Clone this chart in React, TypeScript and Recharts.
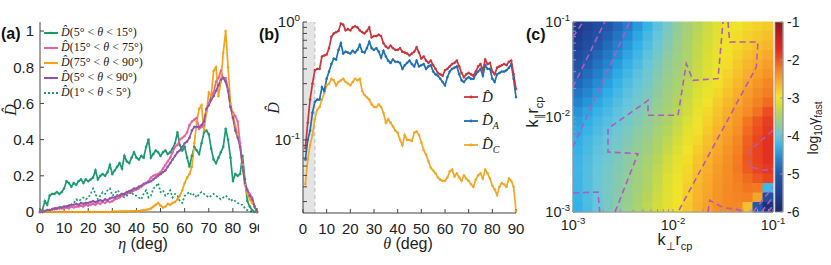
import React from 'react'
import {
  LineChart, Line, XAxis, YAxis, ReferenceArea, ReferenceLine,
  ComposedChart, Scatter,
} from 'recharts'

const SANS = '"Liberation Sans", Arial, Helvetica, sans-serif'
const SERIF = '"Liberation Serif", "DejaVu Serif", serif'
const INK = '#222'
const AXIS = '#444'
const HAT_D = 'D\u0302'

// ---------- panel (a): D-hat vs eta ----------
const ETA = Array.from({ length: 91 }, (_, i) => i)
const ETA_TICKS = [0, 10, 20, 30, 40, 50, 60, 70, 80, 90]
const DA_TICKS = [0, 0.2, 0.4, 0.6, 0.8, 1]

const D_5_15 = [0, 0.01, 0.06, 0.04, 0.09, 0.10, 0.10, 0.11, 0.10, 0.11, 0.13, 0.17, 0.16, 0.14, 0.16, 0.15, 0.17, 0.18, 0.16, 0.18, 0.17, 0.18, 0.19, 0.23, 0.18, 0.20, 0.21, 0.20, 0.22, 0.26, 0.21, 0.23, 0.25, 0.27, 0.24, 0.31, 0.28, 0.27, 0.30, 0.33, 0.30, 0.29, 0.31, 0.30, 0.36, 0.40, 0.30, 0.32, 0.34, 0.33, 0.31, 0.33, 0.34, 0.32, 0.33, 0.35, 0.38, 0.44, 0.37, 0.34, 0.36, 0.30, 0.25, 0.31, 0.36, 0.34, 0.32, 0.38, 0.44, 0.45, 0.43, 0.35, 0.29, 0.27, 0.30, 0.33, 0.36, 0.46, 0.40, 0.30, 0.17, 0.21, 0.20, 0.21, 0.31, 0.18, 0.06, 0.03, 0.01, 0, 0]
const D_15_75 = [0, 0, 0.005, 0.01, 0.01, 0.015, 0.015, 0.02, 0.02, 0.02, 0.02, 0.025, 0.02, 0.03, 0.025, 0.03, 0.03, 0.035, 0.03, 0.04, 0.035, 0.04, 0.045, 0.04, 0.05, 0.045, 0.055, 0.05, 0.06, 0.055, 0.06, 0.07, 0.075, 0.08, 0.09, 0.095, 0.10, 0.11, 0.11, 0.12, 0.125, 0.13, 0.14, 0.15, 0.16, 0.17, 0.19, 0.20, 0.205, 0.21, 0.22, 0.24, 0.26, 0.28, 0.30, 0.33, 0.36, 0.37, 0.40, 0.41, 0.42, 0.44, 0.48, 0.50, 0.51, 0.52, 0.46, 0.47, 0.48, 0.56, 0.60, 0.64, 0.66, 0.72, 0.74, 0.78, 0.74, 0.74, 0.68, 0.58, 0.55, 0.53, 0.50, 0.38, 0.25, 0.16, 0.12, 0.10, 0.08, 0.03, 0]
const D_75_90 = [0, 0, 0, 0, 0, 0, 0, 0, 0, 0, 0, 0, 0, 0, 0, 0, 0, 0, 0, 0, 0, 0, 0, 0, 0, 0, 0, 0, 0, 0, 0.002, 0.002, 0.002, 0.003, 0.003, 0.003, 0.004, 0.004, 0.005, 0.005, 0.005, 0.005, 0.008, 0.01, 0.012, 0.015, 0.02, 0.03, 0.04, 0.05, 0.035, 0.025, 0.03, 0.045, 0.04, 0.05, 0.055, 0.07, 0.09, 0.12, 0.16, 0.19, 0.21, 0.25, 0.38, 0.50, 0.57, 0.59, 0.45, 0.55, 0.66, 0.64, 0.78, 0.80, 0.64, 0.72, 0.88, 1.0, 0.80, 0.60, 0.54, 0.48, 0.43, 0.36, 0.26, 0.15, 0.10, 0.07, 0.05, 0.03, 0]
const D_5_90 = [0, 0, 0.005, 0.01, 0.01, 0.015, 0.02, 0.02, 0.025, 0.025, 0.03, 0.03, 0.035, 0.04, 0.04, 0.045, 0.04, 0.05, 0.045, 0.05, 0.05, 0.055, 0.06, 0.055, 0.06, 0.065, 0.06, 0.07, 0.065, 0.075, 0.08, 0.08, 0.09, 0.09, 0.10, 0.10, 0.11, 0.115, 0.12, 0.13, 0.13, 0.14, 0.145, 0.155, 0.16, 0.165, 0.17, 0.18, 0.19, 0.20, 0.21, 0.22, 0.23, 0.25, 0.27, 0.29, 0.31, 0.33, 0.34, 0.36, 0.38, 0.39, 0.41, 0.45, 0.47, 0.47, 0.47, 0.48, 0.50, 0.57, 0.59, 0.62, 0.64, 0.67, 0.70, 0.73, 0.74, 0.72, 0.67, 0.58, 0.52, 0.45, 0.41, 0.36, 0.25, 0.16, 0.12, 0.09, 0.07, 0.03, 0]
const D_1_5 = [0, 0, 0.005, 0.01, 0.01, 0.015, 0.02, 0.02, 0.025, 0.03, 0.03, 0.03, 0.035, 0.04, 0.05, 0.07, 0.06, 0.07, 0.08, 0.07, 0.08, 0.10, 0.13, 0.10, 0.07, 0.09, 0.11, 0.10, 0.12, 0.13, 0.09, 0.10, 0.12, 0.11, 0.09, 0.08, 0.09, 0.10, 0.11, 0.09, 0.09, 0.08, 0.07, 0.10, 0.12, 0.08, 0.09, 0.13, 0.14, 0.16, 0.11, 0.12, 0.09, 0.10, 0.12, 0.08, 0.10, 0.09, 0.06, 0.05, 0.09, 0.10, 0.11, 0.09, 0.10, 0.08, 0.10, 0.11, 0.10, 0.09, 0.08, 0.09, 0.10, 0.09, 0.08, 0.07, 0.08, 0.09, 0.08, 0.06, 0.07, 0.06, 0.05, 0.04, 0.04, 0.02, 0.01, 0.005, 0, 0, 0]

const SERIES_A = [
  { key: 'g15', lo: 5, hi: 15, color: '#1b9a6e', values: D_5_15 },
  { key: 'p75', lo: 15, hi: 75, color: '#e6639f', values: D_15_75 },
  { key: 'o90', lo: 75, hi: 90, color: '#f5a21c', values: D_75_90 },
  { key: 'v90', lo: 5, hi: 90, color: '#8b55ad', values: D_5_90 },
  { key: 'g5', lo: 1, hi: 5, color: '#1b9a6e', values: D_1_5, dash: '2 2' },
]

// ---------- panel (b): D-hat vs theta (log) ----------
const THETA = Array.from({ length: 90 }, (_, i) => i + 1)
const D_HAT = [0.085, 0.14, 0.22, 0.30, 0.39, 0.40, 0.40, 0.51, 0.52, 0.53, 0.60, 0.75, 0.80, 0.82, 0.84, 0.97, 0.95, 0.85, 0.87, 0.85, 0.90, 0.92, 0.90, 0.85, 0.82, 0.80, 0.84, 0.90, 0.74, 0.76, 0.76, 0.78, 0.76, 0.66, 0.62, 0.60, 0.63, 0.60, 0.58, 0.58, 0.60, 0.56, 0.55, 0.54, 0.52, 0.54, 0.56, 0.61, 0.55, 0.49, 0.51, 0.47, 0.45, 0.47, 0.43, 0.40, 0.37, 0.36, 0.35, 0.39, 0.40, 0.42, 0.44, 0.45, 0.47, 0.42, 0.37, 0.34, 0.36, 0.37, 0.36, 0.35, 0.38, 0.42, 0.44, 0.39, 0.48, 0.44, 0.45, 0.38, 0.36, 0.41, 0.42, 0.43, 0.44, 0.43, 0.46, 0.47, 0.36, 0.27]
const D_HAT_A = [0.068, 0.10, 0.12, 0.17, 0.21, 0.22, 0.22, 0.28, 0.26, 0.33, 0.38, 0.44, 0.49, 0.48, 0.58, 0.66, 0.54, 0.56, 0.55, 0.54, 0.57, 0.55, 0.58, 0.64, 0.56, 0.55, 0.60, 0.68, 0.60, 0.58, 0.60, 0.56, 0.50, 0.57, 0.51, 0.47, 0.45, 0.48, 0.46, 0.46, 0.45, 0.40, 0.43, 0.45, 0.47, 0.44, 0.42, 0.47, 0.42, 0.43, 0.44, 0.40, 0.42, 0.43, 0.38, 0.36, 0.35, 0.33, 0.31, 0.29, 0.34, 0.38, 0.40, 0.41, 0.42, 0.36, 0.32, 0.31, 0.33, 0.34, 0.33, 0.33, 0.36, 0.38, 0.40, 0.35, 0.43, 0.40, 0.40, 0.33, 0.31, 0.36, 0.37, 0.38, 0.38, 0.39, 0.41, 0.44, 0.33, 0.23]
const D_HAT_C = [0.042, 0.068, 0.09, 0.11, 0.15, 0.18, 0.19, 0.22, 0.25, 0.29, 0.30, 0.33, 0.32, 0.29, 0.31, 0.32, 0.33, 0.31, 0.30, 0.29, 0.31, 0.33, 0.32, 0.33, 0.26, 0.24, 0.23, 0.22, 0.20, 0.19, 0.19, 0.20, 0.19, 0.17, 0.14, 0.15, 0.14, 0.13, 0.12, 0.115, 0.10, 0.09, 0.11, 0.10, 0.10, 0.098, 0.115, 0.118, 0.11, 0.095, 0.082, 0.075, 0.066, 0.058, 0.055, 0.052, 0.048, 0.046, 0.045, 0.045, 0.048, 0.054, 0.056, 0.049, 0.052, 0.048, 0.045, 0.050, 0.047, 0.045, 0.042, 0.040, 0.046, 0.050, 0.052, 0.047, 0.056, 0.052, 0.047, 0.041, 0.038, 0.034, 0.040, 0.043, 0.042, 0.040, 0.047, 0.045, 0.040, 0.025]
const DB_TICKS = [0.03, 0.04, 0.05, 0.06, 0.07, 0.08, 0.09, 0.1, 0.2, 0.3, 0.4, 0.5, 0.6, 0.7, 0.8, 0.9, 1]

const SERIES_B = [
  { key: 'dC', sub: 'C', color: '#f2a726', values: D_HAT_C },
  { key: 'dA', sub: 'A', color: '#1f70b6', values: D_HAT_A },
  { key: 'd', sub: '', color: '#c9363c', values: D_HAT },
]

// ---------- panel (c): log10 gamma_fast map ----------
const LOG_KPERP = [-2.95, -2.85, -2.75, -2.65, -2.55, -2.45, -2.35, -2.25, -2.15, -2.05, -1.95, -1.85, -1.75, -1.65, -1.55, -1.45, -1.35, -1.25, -1.15, -1.05]
const LOG_KPAR = [-1.05, -1.15, -1.25, -1.35, -1.45, -1.55, -1.65, -1.75, -1.85, -1.95, -2.05, -2.15, -2.25, -2.35, -2.45, -2.55, -2.65, -2.75, -2.85, -2.95]
const GAMMA_GRID = [
  [-5.61, -5.42, -5.24, -5.04, -4.85, -4.65, -4.46, -4.26, -4.07, -3.88, -3.70, -3.54, -3.38, -3.24, -3.11, -3.01, -2.94, -2.88, -2.83, -2.78],
  [-5.50, -5.31, -5.12, -4.93, -4.74, -4.56, -4.37, -4.19, -4.01, -3.84, -3.67, -3.51, -3.35, -3.22, -3.09, -2.98, -2.91, -2.83, -2.77, -2.71],
  [-5.40, -5.20, -5.00, -4.82, -4.64, -4.46, -4.29, -4.12, -3.96, -3.80, -3.64, -3.48, -3.32, -3.19, -3.06, -2.96, -2.87, -2.78, -2.71, -2.64],
  [-5.26, -5.07, -4.88, -4.71, -4.54, -4.37, -4.22, -4.06, -3.91, -3.76, -3.60, -3.45, -3.30, -3.17, -3.04, -2.93, -2.82, -2.72, -2.64, -2.55],
  [-5.13, -4.94, -4.76, -4.60, -4.43, -4.28, -4.14, -4.00, -3.86, -3.71, -3.57, -3.42, -3.28, -3.15, -3.02, -2.90, -2.77, -2.65, -2.56, -2.47],
  [-4.99, -4.82, -4.65, -4.49, -4.34, -4.20, -4.07, -3.95, -3.81, -3.67, -3.53, -3.39, -3.25, -3.12, -2.99, -2.85, -2.72, -2.59, -2.49, -2.39],
  [-4.86, -4.71, -4.55, -4.41, -4.26, -4.13, -4.02, -3.91, -3.77, -3.63, -3.49, -3.34, -3.20, -3.06, -2.93, -2.79, -2.66, -2.52, -2.41, -2.30],
  [-4.73, -4.59, -4.45, -4.32, -4.19, -4.07, -3.97, -3.87, -3.73, -3.59, -3.45, -3.30, -3.15, -3.01, -2.87, -2.73, -2.60, -2.46, -2.34, -2.23],
  [-4.62, -4.49, -4.36, -4.24, -4.12, -4.01, -3.92, -3.82, -3.68, -3.55, -3.40, -3.25, -3.10, -2.95, -2.80, -2.66, -2.53, -2.40, -2.26, -2.12],
  [-4.50, -4.39, -4.27, -4.17, -4.06, -3.96, -3.87, -3.77, -3.64, -3.51, -3.36, -3.21, -3.05, -2.89, -2.74, -2.59, -2.46, -2.33, -2.15, -1.95],
  [-4.41, -4.30, -4.19, -4.10, -4.01, -3.91, -3.82, -3.72, -3.59, -3.46, -3.31, -3.15, -2.99, -2.83, -2.68, -2.54, -2.41, -2.18, -2.00, -1.85],
  [-4.36, -4.25, -4.14, -4.05, -3.96, -3.87, -3.77, -3.67, -3.53, -3.40, -3.25, -3.09, -2.93, -2.78, -2.63, -2.49, -2.36, -2.12, -1.95, -1.80],
  [-4.30, -4.19, -4.08, -4.00, -3.92, -3.83, -3.72, -3.62, -3.48, -3.34, -3.19, -3.03, -2.87, -2.72, -2.57, -2.44, -2.30, -2.06, -1.90, -1.75],
  [-4.27, -4.16, -4.05, -3.97, -3.89, -3.79, -3.68, -3.57, -3.43, -3.28, -3.13, -2.97, -2.81, -2.67, -2.53, -2.40, -2.26, -2.03, -1.88, -1.75],
  [-4.24, -4.13, -4.02, -3.94, -3.86, -3.76, -3.64, -3.52, -3.37, -3.22, -3.07, -2.91, -2.75, -2.62, -2.49, -2.36, -2.22, -2.00, -1.88, -1.75],
  [-4.22, -4.11, -4.00, -3.92, -3.83, -3.73, -3.60, -3.48, -3.33, -3.18, -3.03, -2.87, -2.71, -2.58, -2.45, -2.34, -2.20, -2.02, -1.90, -1.80],
  [-4.23, -4.11, -3.99, -3.90, -3.81, -3.71, -3.58, -3.45, -3.30, -3.15, -3.00, -2.84, -2.68, -2.56, -2.43, -2.33, -2.24, -2.12, -2.00, -1.90],
  [-4.24, -4.11, -3.98, -3.89, -3.80, -3.68, -3.55, -3.42, -3.27, -3.12, -2.97, -2.81, -2.65, -2.53, -2.41, -2.32, -2.25, -2.18, -2.20, -4.20],
  [-4.26, -4.13, -3.99, -3.89, -3.78, -3.66, -3.52, -3.38, -3.24, -3.10, -2.95, -2.79, -2.63, -2.51, -2.39, -2.31, -2.28, -2.25, -2.50, -5.20],
  [-4.29, -4.14, -4.00, -3.88, -3.77, -3.64, -3.49, -3.34, -3.21, -3.08, -2.93, -2.77, -2.61, -2.49, -2.37, -2.31, -2.31, -2.70, -5.00, -5.80],
]
// dashed contour paths, [log10 k_perp r, log10 k_par r]
const CONTOURS = [
  [[-3, -2.8], [-2.75, -2.79], [-2.733, -3]],
  [[-3, -1.158], [-2.9, -1.0]],
  [[-3, -1.684], [-2.683, -1.0]],
  [[-3, -2.316], [-2.433, -1.0]],
  [[-2.58, -3], [-2.35, -2.386], [-2.65, -2.368], [-2.65, -2.123], [-2.25, -1.825], [-2.25, -1.982], [-1.95, -1.982], [-1.867, -1.439], [-1.8, -1.614], [-1.55, -1.596], [-1.5, -1.0]],
  [[-1.45, -1.0], [-1.433, -1.211], [-1.15, -1.211], [-1.167, -1.474], [-1.95, -3.0]],
  [[-1.65, -3], [-1.633, -2.877], [-1.5, -2.954], [-1.35, -2.975], [-1.3, -3]],
  [[-1, -2.14], [-1.233, -2.351], [-1.233, -2.526], [-1.083, -2.561], [-1, -2.544]],
  [[-1.2, -3], [-1, -2.737]],
  [[-1.117, -3], [-1, -2.842]],
  [[-1.05, -3], [-1, -2.93]],
]
const LOG_TICKS_C = [0.001, 0.002, 0.003, 0.004, 0.005, 0.006, 0.007, 0.008, 0.009, 0.01, 0.02, 0.03, 0.04, 0.05, 0.06, 0.07, 0.08, 0.09, 0.1]
const CBAR_TICKS = [-6, -5, -4, -3, -2, -1]
const CMAP: [number, string][] = [
  [-6.0, '#1b2a6b'], [-5.5, '#1f3e93'], [-5.0, '#2358ab'], [-4.6, '#2385cf'], [-4.3, '#31b0e8'],
  [-4.0, '#68c6dc'], [-3.7, '#94cc98'], [-3.4, '#b4d45e'], [-3.15, '#dcdf34'], [-2.95, '#f2e32a'],
  [-2.6, '#f8b02c'], [-2.2, '#f37a22'], [-1.9, '#ea4520'], [-1.7, '#df2a21'], [-1.5, '#d42020'],
  [-1.0, '#8e1818'],
]
const CONTOUR_COLOR = '#b25bbd'

function hexToRgb(h: string) {
  return [1, 3, 5].map((i) => parseInt(h.slice(i, i + 2), 16))
}

function gammaColor(v: number) {
  if (v <= CMAP[0][0]) return CMAP[0][1]
  for (let i = 1; i < CMAP.length; i++) {
    if (v <= CMAP[i][0]) {
      const [v0, c0] = CMAP[i - 1]
      const [v1, c1] = CMAP[i]
      const t = (v - v0) / (v1 - v0)
      const a = hexToRgb(c0), b = hexToRgb(c1)
      const m = a.map((x, k) => Math.round(x + (b[k] - x) * t))
      return `rgb(${m[0]},${m[1]},${m[2]})`
    }
  }
  return CMAP[CMAP.length - 1][1]
}

// 10^n tick label, blank for the minor ticks
function PowTick(props: any) {
  const { x, y, payload, textAnchor, size = 15, dy = 5 } = props
  const e = Math.log10(payload.value)
  if (Math.abs(e - Math.round(e)) > 1e-6) return null
  return (
    <text x={x} y={y + dy} textAnchor={textAnchor} fontFamily={SANS} fontSize={size} fill={INK}>
      10<tspan dy={-6} fontSize={size * 0.66}>{Math.round(e)}</tspan>
    </text>
  )
}

const tickFont = { fontSize: 15, fill: INK, fontFamily: SANS }

function PanelA() {
  const data = ETA.map((eta, i) => {
    const row: any = { eta }
    SERIES_A.forEach((s) => { row[s.key] = s.values[i] })
    return row
  })
  return (
    <LineChart width={270} height={265} data={data} margin={{ top: 22, right: 13, bottom: 0, left: 0 }}>
      <XAxis dataKey="eta" type="number" domain={[0, 90]} ticks={ETA_TICKS} interval={0} height={53}
        tickSize={-4} tickMargin={14} stroke={AXIS} tick={tickFont} />
      <XAxis xAxisId="top" orientation="top" type="number" domain={[0, 90]} ticks={ETA_TICKS}
        height={0} tickSize={-4} tick={false} stroke={AXIS} />
      <YAxis type="number" domain={[0, 1.05]} ticks={DA_TICKS} interval={0} width={40}
        tickSize={-4} tickMargin={10} stroke={AXIS} tick={tickFont} />
      <YAxis yAxisId="right" orientation="right" type="number" domain={[0, 1.05]} ticks={DA_TICKS}
        width={0} tickSize={-4} tick={false} stroke={AXIS} />
      {SERIES_A.map((s) => (
        <Line key={s.key} dataKey={s.key} stroke={s.color} strokeWidth={1.7} strokeDasharray={s.dash}
          dot={s.dash ? false : { r: 1.1, fill: s.color, stroke: s.color, strokeWidth: 0.4 }}
          isAnimationActive={false} />
      ))}
    </LineChart>
  )
}

function PanelB() {
  const data = THETA.map((theta, i) => {
    const row: any = { theta }
    SERIES_B.forEach((s) => { row[s.key] = s.values[i] })
    return row
  })
  return (
    <LineChart width={271} height={265} data={data} margin={{ top: 22, right: 14, bottom: 0, left: 0 }}>
      <XAxis dataKey="theta" type="number" domain={[0, 90]} ticks={ETA_TICKS} interval={0} height={52}
        tickSize={-4} tickMargin={14} stroke={AXIS} tick={tickFont} />
      <XAxis xAxisId="top" orientation="top" type="number" domain={[0, 90]} ticks={ETA_TICKS}
        height={0} tickSize={-4} tick={false} stroke={AXIS} />
      <YAxis type="number" scale="log" domain={[0.024, 1]} allowDataOverflow ticks={DB_TICKS} interval={0}
        width={44} tickSize={-4} tickMargin={7} stroke={AXIS} tick={(p: any) => <PowTick {...p} />} />
      <YAxis yAxisId="right" orientation="right" type="number" scale="log" domain={[0.024, 1]} allowDataOverflow
        ticks={DB_TICKS} width={0} tickSize={-4} tick={false} stroke={AXIS} />
      <ReferenceArea x1={0} x2={5} fill="#e4e4e4" fillOpacity={1} stroke="none" />
      <ReferenceLine x={5} stroke="#c4c4c4" strokeWidth={1.2} strokeDasharray="4 3" />
      {SERIES_B.map((s) => (
        <Line key={s.key} dataKey={s.key} stroke={s.color} strokeWidth={1.7}
          dot={{ r: 1.1, fill: s.color, stroke: s.color, strokeWidth: 0.4 }} isAnimationActive={false} />
      ))}
    </LineChart>
  )
}

function PanelC() {
  const cells: React.ReactNode[] = []
  GAMMA_GRID.forEach((row, r) => row.forEach((g, c) => {
    const col = gammaColor(g)
    cells.push(
      <ReferenceArea key={`${r}-${c}`} ifOverflow="visible"
        x1={10 ** (LOG_KPERP[c] - 0.05)} x2={10 ** (LOG_KPERP[c] + 0.05)}
        y1={10 ** (LOG_KPAR[r] - 0.05)} y2={10 ** (LOG_KPAR[r] + 0.05)}
        fill={col} fillOpacity={1} stroke={col} strokeWidth={1} />,
    )
  }))
  const cTick = { stroke: '#999' }
  return (
    <ComposedChart width={273} height={265} margin={{ top: 22, right: 20, bottom: 0, left: 0 }}>
      <XAxis dataKey="x" type="number" scale="log" domain={[0.001, 0.1]} allowDataOverflow ticks={LOG_TICKS_C}
        interval={0} height={53} tickSize={-3} tickMargin={10} stroke="#999" tickLine={cTick}
        tick={(p: any) => <PowTick {...p} size={14.5} dy={11} />} />
      <XAxis xAxisId="top" orientation="top" type="number" scale="log" domain={[0.001, 0.1]} allowDataOverflow
        ticks={LOG_TICKS_C} height={0} tickSize={-3} tick={false} stroke="#999" />
      <YAxis dataKey="y" type="number" scale="log" domain={[0.001, 0.1]} allowDataOverflow ticks={LOG_TICKS_C}
        interval={0} width={53} tickSize={-3} tickMargin={6} stroke="#999" tickLine={cTick}
        tick={(p: any) => <PowTick {...p} size={14.5} dy={5} />} />
      <YAxis yAxisId="right" orientation="right" type="number" scale="log" domain={[0.001, 0.1]} allowDataOverflow
        ticks={LOG_TICKS_C} width={0} tickSize={-3} tick={false} stroke="#999" />
      {cells}
      {CONTOURS.map((path, i) => (
        <Scatter key={i} data={path.map(([u, v]) => ({ x: 10 ** u, y: 10 ** v }))}
          line={{ stroke: CONTOUR_COLOR, strokeWidth: 1.6, strokeDasharray: '6 4' }}
          shape={() => <g />} isAnimationActive={false} />
      ))}
    </ComposedChart>
  )
}

function ColorBar() {
  const data = CBAR_TICKS.map((level) => ({ x: 0.5, level }))
  return (
    <ComposedChart width={66} height={265} data={data} margin={{ top: 22, right: 0, bottom: 53, left: 10 }}>
      <defs>
        <linearGradient id="cbar" x1="0" y1="1" x2="0" y2="0">
          {CMAP.map(([v, c]) => <stop key={v} offset={`${((v + 6) / 5) * 100}%`} stopColor={c} />)}
        </linearGradient>
      </defs>
      <XAxis dataKey="x" type="number" domain={[0, 1]} hide />
      <YAxis dataKey="level" orientation="right" type="number" domain={[-6, -1]} ticks={CBAR_TICKS} interval={0}
        width={48} tickSize={-3} tickMargin={7} stroke="#999" tick={{ fontSize: 14, fill: INK, fontFamily: SANS }} />
      <ReferenceArea y1={-6} y2={-1} fill="url(#cbar)" fillOpacity={1} stroke="#999" strokeWidth={0.8} />
      <Scatter dataKey="level" shape={() => <g />} isAnimationActive={false} />
    </ComposedChart>
  )
}

function LegendA() {
  return (
    <div style={{ position: 'absolute', left: 44, top: 25, fontFamily: SERIF, fontSize: 12, color: INK }}>
      {SERIES_A.map((s) => (
        <div key={s.key} style={{ display: 'flex', alignItems: 'center', height: 15, whiteSpace: 'nowrap' }}>
          <svg width={15} height={8}>
            <line x1={0} y1={4} x2={14} y2={4} stroke={s.color} strokeWidth={2} strokeDasharray={s.dash} />
            {!s.dash && <circle cx={7} cy={4} r={1.3} fill={s.color} />}
          </svg>
          <span style={{ marginLeft: 2 }}>
            <i>{HAT_D}</i>({s.lo}° &lt; <i>θ</i> &lt; {s.hi}°)
          </span>
        </div>
      ))}
    </div>
  )
}

function LegendB() {
  const rows = [...SERIES_B].reverse()
  return (
    <div style={{ position: 'absolute', left: 464, top: 85, fontFamily: SERIF, fontSize: 15, color: INK }}>
      {rows.map((s) => (
        <div key={s.key} style={{ display: 'flex', alignItems: 'center', height: 24 }}>
          <svg width={15} height={8}>
            <line x1={0} y1={4} x2={14} y2={4} stroke={s.color} strokeWidth={1.8} />
            <circle cx={7} cy={4} r={1.4} fill={s.color} />
          </svg>
          <span style={{ marginLeft: 3 }}>
            <i>{HAT_D}</i>{s.sub && <sub style={{ fontSize: 10, fontStyle: 'italic' }}>{s.sub}</sub>}
          </span>
        </div>
      ))}
    </div>
  )
}

function Titles() {
  const bold = { fontFamily: SANS, fontWeight: 700, fontSize: 16, fill: '#111' }
  return (
    <svg width={831} height={265} style={{ position: 'absolute', left: 0, top: 0, pointerEvents: 'none' }}>
      <text x={1} y={39} {...bold}>(a)</text>
      <text x={259} y={40} {...bold}>(b)</text>
      <text x={526} y={40} {...bold}>(c)</text>

      <text transform="translate(16,110) rotate(-90)" textAnchor="middle" fontFamily={SERIF} fontStyle="italic" fontSize={16} fill={INK}>{HAT_D}</text>
      <text transform="translate(279,108) rotate(-90)" textAnchor="middle" fontFamily={SERIF} fontStyle="italic" fontSize={16} fill={INK}>{HAT_D}</text>

      <text x={143} y={249} textAnchor="middle" fontSize={16} fill={INK}>
        <tspan fontFamily={SERIF} fontStyle="italic">η</tspan><tspan fontFamily={SANS}> (deg)</tspan>
      </text>
      <text x={408} y={249} textAnchor="middle" fontSize={16} fill={INK}>
        <tspan fontFamily={SERIF} fontStyle="italic">θ</tspan><tspan fontFamily={SANS}>  (deg)</tspan>
      </text>

      <text x={675} y={245} textAnchor="middle" fontFamily={SANS} fontSize={16} fill={INK}>
        k<tspan dy={5} fontSize={11}>⊥</tspan><tspan dy={-5}>r</tspan><tspan dy={5} fontSize={11}>cp</tspan>
      </text>
      <text transform="translate(538,112) rotate(-90)" textAnchor="middle" fontFamily={SANS} fontSize={16} fill={INK}>
        k<tspan dy={5} fontSize={11}>∥</tspan><tspan dy={-5}>r</tspan><tspan dy={5} fontSize={11}>cp</tspan>
      </text>
      <text transform="translate(818,128) rotate(-90)" textAnchor="middle" fontFamily={SANS} fontSize={14} fill={INK}>
        log<tspan dy={4} fontSize={10}>10</tspan><tspan dy={-4}>γ</tspan><tspan dy={4} fontSize={10}>fast</tspan>
      </text>
    </svg>
  )
}

export default function App() {
  return (
    <div style={{ position: 'absolute', left: 0, top: 0, width: 831, height: 265, background: '#fff', overflow: 'hidden' }}>
      <div style={{ position: 'absolute', left: 0, top: 0 }}><PanelA /></div>
      <div style={{ position: 'absolute', left: 259, top: 0, background: '#fff' }}><PanelB /></div>
      <div style={{ position: 'absolute', left: 520, top: 0 }}><PanelC /></div>
      <div style={{ position: 'absolute', left: 765, top: 0 }}><ColorBar /></div>
      <LegendA />
      <LegendB />
      <Titles />
    </div>
  )
}
